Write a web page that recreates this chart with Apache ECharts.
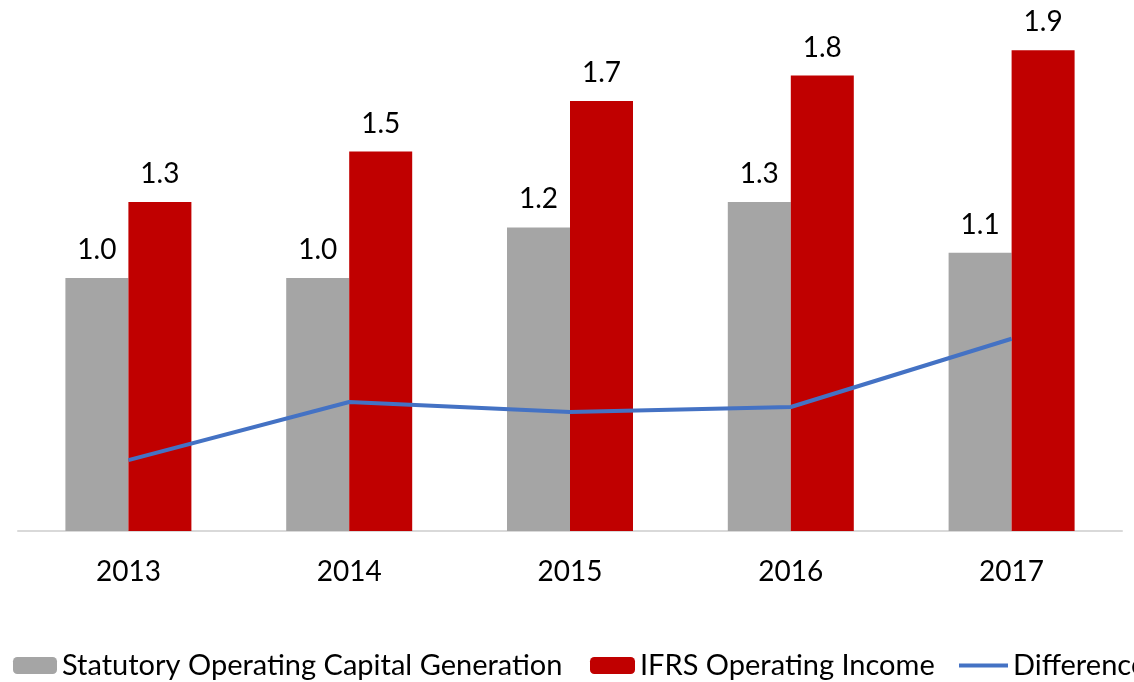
<!DOCTYPE html>
<html>
<head>
<meta charset="utf-8">
<script src="https://cdn.jsdelivr.net/npm/echarts@6/dist/echarts.min.js"></script>
<style>
  html, body { margin: 0; padding: 0; background: #ffffff; }
  #chart { width: 1134px; height: 682px; }
</style>
</head>
<body>
<div id="chart"></div>
<script>
// Years on the category axis
const years = ['2013', '2014', '2015', '2016', '2017'];
// Statutory operating capital generation (bn)
const statutory = [1.0, 1.0, 1.2, 1.3, 1.1];
// IFRS operating income (bn)
const ifrs = [1.3, 1.5, 1.7, 1.8, 1.9];
// Difference between the two measures (bn)
const difference = [0.28, 0.51, 0.47, 0.49, 0.76];

const seriesNames = ['Statutory Operating Capital Generation', 'IFRS Operating Income', 'Difference'];

const FONT = 'Lato';
const legendText = { fontFamily: FONT, fontSize: 29, color: '#000000' };

const chart = echarts.init(document.getElementById('chart'), null, { renderer: 'canvas' });

const barLabel = {
  show: true,
  position: 'top',
  distance: 14,
  fontFamily: FONT,
  fontSize: 28,
  color: '#000000',
  formatter: p => p.value.toFixed(1)
};

chart.setOption({
  animation: false,
  backgroundColor: '#ffffff',
  grid: { left: 18, right: 12, top: 25, bottom: 151, containLabel: false },
  legend: [
    { data: [seriesNames[0]], left: 8, top: 646, itemWidth: 44, itemHeight: 17, itemGap: 0, textStyle: legendText },
    { data: [seriesNames[1]], left: 585, top: 646, itemWidth: 45, itemHeight: 17, itemGap: 0, textStyle: legendText },
    { data: [seriesNames[2]], left: 952, top: 646, itemWidth: 49, itemHeight: 17, itemGap: 0, textStyle: legendText,
      itemStyle: { opacity: 0 }, lineStyle: { width: 4 } }
  ],
  xAxis: {
    type: 'category',
    data: years,
    axisTick: { show: false },
    axisLine: { lineStyle: { color: '#d9d9d9', width: 2 } },
    axisLabel: { fontFamily: FONT, fontSize: 28, color: '#000000', margin: 27 }
  },
  yAxis: {
    type: 'value',
    min: 0,
    max: 2,
    show: false,
    splitLine: { show: false }
  },
  series: [
    {
      name: seriesNames[0],
      type: 'bar',
      data: statutory,
      barWidth: 63,
      barGap: '0%',
      itemStyle: { color: '#a5a5a5' },
      label: barLabel
    },
    {
      name: seriesNames[1],
      type: 'bar',
      data: ifrs,
      barWidth: 63,
      barGap: '0%',
      itemStyle: { color: '#c00000' },
      label: barLabel
    },
    {
      name: seriesNames[2],
      type: 'line',
      data: difference,
      showSymbol: false,
      symbol: 'none',
      lineStyle: { color: '#4472c4', width: 4 },
      itemStyle: { color: '#4472c4' },
      z: 5
    }
  ]
});
</script>
</body>
</html>
